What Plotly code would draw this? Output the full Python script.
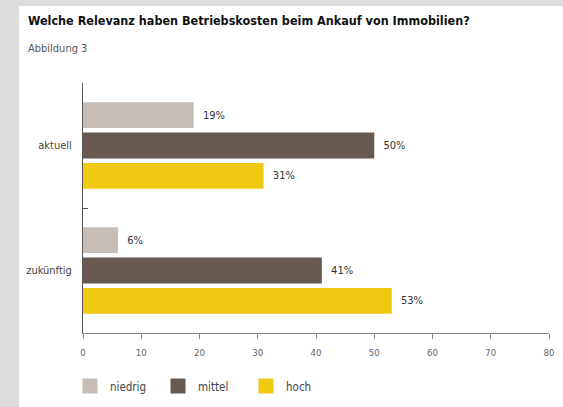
import plotly.graph_objects as go

categories = ["aktuell", "zukünftig"]
series_names = ["niedrig", "mittel", "hoch"]
niedrig = [19, 6]
mittel = [50, 41]
hoch = [31, 53]
values = [niedrig, mittel, hoch]
colors = ["#c6bdb6", "#675850", "#f1c812"]
x_ticks = [0, 10, 20, 30, 40, 50, 60, 70, 80]

FONT = "DejaVu Sans Condensed, DejaVu Sans, sans-serif"

W, H = 563, 407
ml, mr, mt, mb = 83, 14, 83, 74
pw, ph = W - ml - mr, H - mt - mb

fig = go.Figure()
for name, vals, col in zip(series_names, values, colors):
    fig.add_trace(go.Bar(
        y=categories, x=vals, name=name, orientation="h",
        marker=dict(color=col, line=dict(width=0)),
        texttemplate="\u00a0\u00a0%{x}%", textposition="outside",
        textfont=dict(family=FONT, size=11, color="#333333"),
        cliponaxis=False, showlegend=False,
    ))
# legend entries
for name, col in zip(series_names, colors):
    fig.add_trace(go.Scatter(
        x=[None], y=[None], mode="markers", name=name,
        marker=dict(symbol="square", size=15, color=col),
        showlegend=True,
    ))

# background: grey frame with white panel
fig.add_shape(type="rect", xref="paper", yref="paper",
              x0=(19 - ml) / pw, x1=(W + 5 - ml) / pw,
              y0=-(mb + 5) / ph, y1=(ph + mt - 6) / ph,
              fillcolor="white", line=dict(width=0), layer="below")

fig.update_layout(
    width=W, height=H,
    margin=dict(l=ml, r=mr, t=mt, b=mb, pad=0, autoexpand=False),
    paper_bgcolor="#dcdcdc", plot_bgcolor="rgba(0,0,0,0)",
    barmode="group", bargap=0.27, bargroupgap=0.15,
    font=dict(family=FONT, color="#444444"),
    showlegend=True,
    legend=dict(orientation="h", x=(70 - ml) / pw, xanchor="left",
                y=-(386 - (mt + ph)) / ph, yanchor="middle",
                font=dict(family=FONT, size=11.5, color="#444444"),
                entrywidth=43, entrywidthmode="pixels",
                itemwidth=30, bgcolor="rgba(0,0,0,0)"),
    xaxis=dict(range=[0, 80], tickvals=x_ticks, showgrid=False, zeroline=False,
               showline=True, linecolor="#8a8a8a", linewidth=1,
               ticks="outside", ticklen=5, tickcolor="#8a8a8a",
               tickfont=dict(family=FONT, size=9.5, color="#666666"),
               ticklabelstandoff=6, fixedrange=True, automargin=False),
    yaxis=dict(autorange=False, range=[1.5, -0.5], showgrid=False, zeroline=False,
               showline=True, linecolor="#555555", linewidth=1,
               ticks="inside", ticklen=5, tickcolor="#555555", tickson="boundaries",
               tickfont=dict(family=FONT, size=11, color="#444444"),
               ticklabelstandoff=8, fixedrange=True, automargin=False),
    annotations=[
        dict(text="<b>Welche Relevanz haben Betriebskosten beim Ankauf von Immobilien?</b>",
             xref="paper", yref="paper", x=(26 - ml) / pw, y=(mt + ph - 20) / ph,
             xanchor="left", yanchor="middle", showarrow=False,
             font=dict(family=FONT, size=12.5, color="#111111")),
        dict(text="Abbildung 3",
             xref="paper", yref="paper", x=(26 - ml) / pw, y=(mt + ph - 48) / ph,
             xanchor="left", yanchor="middle", showarrow=False,
             font=dict(family=FONT, size=11, color="#555555")),
    ],
)

fig.write_html("out.html", config={"displayModeBar": False},
               post_script="document.body.style.margin='0';")
